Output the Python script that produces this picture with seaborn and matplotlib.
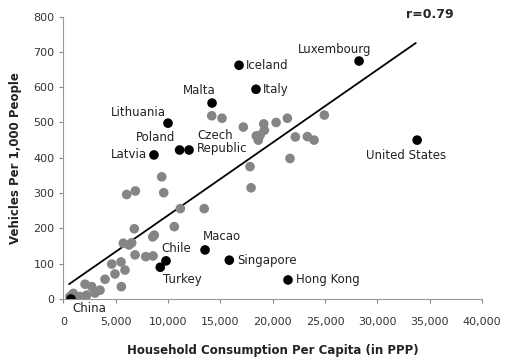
import numpy as np
import pandas as pd
import seaborn as sns
import matplotlib.pyplot as plt
from matplotlib.ticker import FuncFormatter

# labelled countries (black dots)
names = ["Luxembourg", "Iceland", "Italy", "Malta", "Lithuania", "Poland",
         "Czech\nRepublic", "Latvia", "United States", "Macao", "Singapore",
         "Chile", "Turkey", "Hong Kong", "China"]
named_x = [28250, 16780, 18400, 14200, 9990, 11100,
           12000, 8650, 33800, 13530, 15850,
           9800, 9250, 21460, 720]
named_y = [674, 662, 594, 555, 498, 422,
           422, 408, 450, 139, 110,
           108, 90, 54, 0]

# the other countries (grey dots)
other_x = [14170, 15150, 17190, 19140, 19200, 20320, 21400, 24930,
           18430, 18620, 18790, 22160, 23310, 23950, 21650, 17830, 17930,
           13450, 9390, 9580, 6040, 6870, 11170, 6770, 10590, 8680, 8530,
           5720, 6520, 6260, 6840, 7860, 8560, 4610, 5500, 4920, 5880,
           3970, 5530, 2060, 2700, 3010, 3490, 2220, 1580, 940, 620, 1260]
other_y = [519, 512, 487, 496, 478, 500, 512, 521,
           462, 450, 464, 459, 460, 450, 398, 375, 315,
           256, 346, 301, 296, 306, 256, 199, 205, 181, 176,
           158, 159, 153, 125, 120, 122, 99, 105, 71, 82,
           56, 35, 42, 35, 17, 25, 11, 7, 16, 7, 3]

# trend line end points
fit_x = [530, 33670]
fit_y = [42, 725]

x_ticks = [0, 5000, 10000, 15000, 20000, 25000, 30000, 35000, 40000]
y_ticks = [0, 100, 200, 300, 400, 500, 600, 700, 800]

# label offsets in pixels: (dx, dy, ha)
label_pos = {
    "Luxembourg": (-24, 12, "center"),
    "Iceland": (7, 0, "left"),
    "Italy": (7, 0, "left"),
    "Malta": (-13, 13, "center"),
    "Lithuania": (-30, 11, "center"),
    "Poland": (-24, 13, "center"),
    "Czech\nRepublic": (8, 8, "left"),
    "Latvia": (-7, 0, "right"),
    "United States": (-11, -15, "center"),
    "Macao": (17, 13, "center"),
    "Singapore": (8, 0, "left"),
    "Chile": (10, 12, "center"),
    "Turkey": (22, -12, "center"),
    "Hong Kong": (8, 0, "left"),
    "China": (18, -9, "center"),
}

sns.set_style("ticks")
plt.rcParams["font.family"] = ["DejaVu Sans"]

fig = plt.figure(figsize=(5.07, 3.61), dpi=100)
ax = fig.add_axes([0.1252, 0.1717, 0.8255, 0.7825])

others = pd.DataFrame({"x": other_x, "y": other_y})
named = pd.DataFrame({"x": named_x, "y": named_y, "name": names})

ax.plot(fit_x, fit_y, color="black", lw=1.3, zorder=2)
sns.scatterplot(data=others, x="x", y="y", color="#858585", s=48,
                edgecolor="none", ax=ax, zorder=3)
sns.scatterplot(data=named, x="x", y="y", color="black", s=48,
                edgecolor="none", ax=ax, zorder=4)

for _, row in named.iterrows():
    dx, dy, ha = label_pos[row["name"]]
    ax.annotate(row["name"], (row["x"], row["y"]), xytext=(dx, dy),
                textcoords="offset pixels", ha=ha, va="center",
                fontsize=8.5, color="#222222", linespacing=1.0,
                annotation_clip=False)

ax.set_xlim(0, 40000)
ax.set_ylim(0, 800)
ax.set_xticks(x_ticks)
ax.set_yticks(y_ticks)
ax.xaxis.set_major_formatter(FuncFormatter(lambda v, p: f"{int(v):,}"))
ax.tick_params(labelsize=8, colors="#888888", labelcolor="#333333",
               length=3, width=0.8)
ax.tick_params(axis="x", pad=10)
for side in ["left", "bottom"]:
    ax.spines[side].set_color("#999999")
sns.despine(ax=ax)

ax.set_xlabel("Household Consumption Per Capita (in PPP)", fontsize=8.5,
              fontweight="bold", color="#222222", labelpad=12)
ax.set_ylabel("Vehicles Per 1,000 People", fontsize=8.5,
              fontweight="bold", color="#222222", labelpad=8)

fig.text(0.848, 0.96, "r=0.79", fontsize=9, fontweight="bold",
         ha="center", va="center")

fig.savefig("out.png", dpi=100)
